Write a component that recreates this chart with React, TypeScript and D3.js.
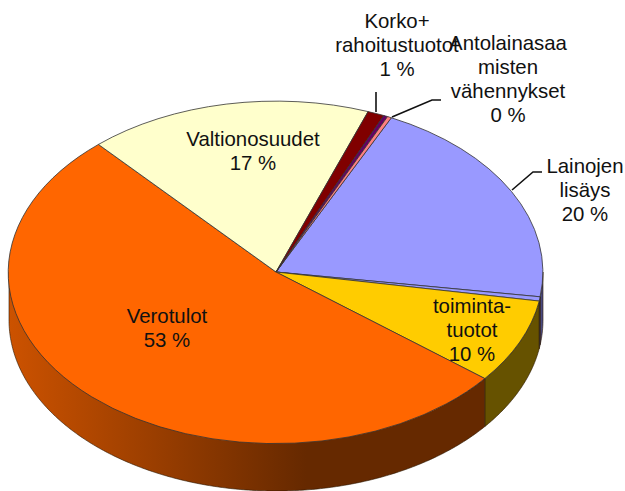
import * as d3 from "d3";

const names = ["Lainojen lisäys", "Muu", "Toimintatuotot", "Verotulot", "Valtionosuudet", "Korko", "Antolainasaamisten vähennykset A", "Antolainasaamisten vähennykset B"];
// slice shares (drawn angle, in percent of the full circle)
const values = [20.2, 0.4, 8.0, 52.7, 17.2, 1.0, 0.25, 0.25];
const colors = ["#9999FF", "#9999FF", "#FFCC00", "#FF6600", "#FFFFCC", "#800000", "#660066", "#FF8080"];
const sideColors = ["#4A4A80", "#333366", "#665200", "url(#sideOrange)", "#666652", "#330000", "#290029", "#663333"];

const labelLines = [
  ["Korko+", "rahoitustuotot", "1 %"],
  ["Antolainasaa", "misten", "vähennykset", "0 %"],
  ["Lainojen", "lisäys", "20 %"],
  ["Valtionosuudet", "17 %"],
  ["Verotulot", "53 %"],
  ["toiminta-", "tuotot", "10 %"],
];

const width = 625;
const height = 491;
const cx = 276;
const cy = 272;
const rx = 267;
const ry = 171;
const depth = 48;
const startDeg = 25.6;
const lineH = 24;

const labelPos = [
  { x: 397, y: 28 },
  { x: 508, y: 50 },
  { x: 585, y: 173 },
  { x: 253, y: 146 },
  { x: 167, y: 323 },
  { x: 472, y: 313 },
];

const leaders = [
  { points: [[376, 112], [376, 92]] },
  { points: [[392, 117], [432, 100], [441, 100]] },
  { points: [[512, 190], [533, 172], [542, 172]] },
];

export default function App() {
  const pie = d3
    .pie<number>()
    .sort(null)
    .startAngle((startDeg * Math.PI) / 180)
    .endAngle((startDeg * Math.PI) / 180 + 2 * Math.PI);
  const slices = pie(values);

  const arc = d3.arc<d3.PieArcDatum<number>>().innerRadius(0).outerRadius(1);
  const ex = d3.scaleLinear().domain([-1, 1]).range([cx - rx, cx + rx]);
  const ey = d3.scaleLinear().domain([-1, 1]).range([cy - ry, cy + ry]);
  const leaderLine = d3.line();

  // side wall of the front half of the disc
  const wall = (a0: number, a1: number) => {
    const norm = (a: number) => ((a % (2 * Math.PI)) + 2 * Math.PI) % (2 * Math.PI);
    const s = norm(a0);
    const e = s + (a1 - a0);
    const from = Math.max(s, Math.PI / 2);
    const to = Math.min(e, (3 * Math.PI) / 2);
    if (to <= from) return null;
    const angles = d3.range(from, to, 0.01).concat(to);
    const pts = angles.map((a) => [ex(Math.sin(a)), ey(-Math.cos(a))] as [number, number]);
    const bottom = pts.map(([x, y]) => [x, y + depth] as [number, number]).reverse();
    return d3.line()([...pts, ...bottom]) + "Z";
  };

  return (
    <svg width={width} height={height} style={{ position: "absolute", left: 0, top: 0 }}>
      <defs>
        <linearGradient id="sideOrange" gradientUnits="userSpaceOnUse" x1={cx - rx} x2={cx + 30} y1={0} y2={0}>
          <stop offset="0" stopColor="#CC5200" />
          <stop offset="1" stopColor="#662900" />
        </linearGradient>
      </defs>

      {slices.map((d, i) => {
        const p = wall(d.startAngle, d.endAngle);
        return p ? <path key={i} d={p} fill={sideColors[i]} stroke="#2a1500" strokeWidth={0.6} /> : null;
      })}

      <g transform={`translate(${cx},${cy}) scale(${rx},${ry})`}>
        {slices.map((d, i) => (
          <path
            key={names[i]}
            d={arc(d) || ""}
            fill={colors[i]}
            stroke="#333"
            strokeWidth={0.8}
            vectorEffect="non-scaling-stroke"
          />
        ))}
      </g>

      {leaders.map((l, i) => (
        <path key={i} d={leaderLine(l.points as [number, number][]) || ""} fill="none" stroke="#111" strokeWidth={1.6} />
      ))}

      <g fontFamily="'Liberation Sans', Arial, sans-serif" fontSize={20.4} fill="#111" textAnchor="middle">
        {labelLines.map((lines, i) => (
          <text key={i} x={labelPos[i].x} y={labelPos[i].y}>
            {lines.map((t, j) => (
              <tspan key={j} x={labelPos[i].x} y={labelPos[i].y + j * lineH}>
                {t}
              </tspan>
            ))}
          </text>
        ))}
      </g>
    </svg>
  );
}
